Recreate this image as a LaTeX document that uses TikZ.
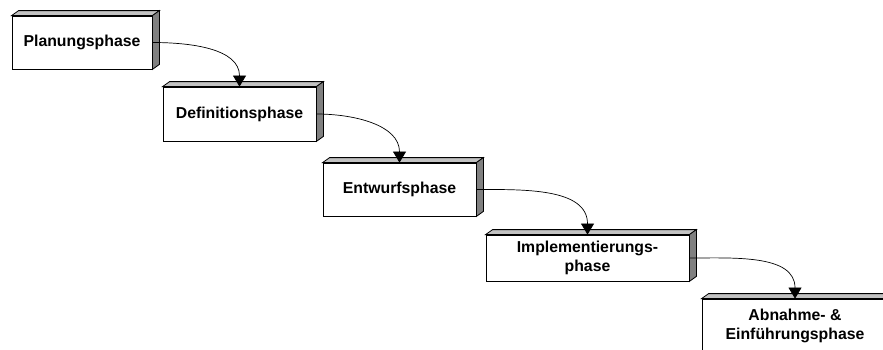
\documentclass[tikz,border=0pt]{standalone}
\usepackage{fontspec}
\setmainfont{Liberation Sans}
\usetikzlibrary{arrows.meta,calc}

\definecolor{topface}{gray}{0.76}
\definecolor{sideface}{gray}{0.50}

\tikzset{
  phase/.style={draw=black, line width=0.8pt, fill=white, rectangle, inner sep=2pt,
    align=center, font=\fontsize{15.8}{18.5}\selectfont\bfseries},
  facedge/.style={draw=black, line width=0.8pt, line join=miter},
  flow/.style={draw=black, line width=0.7pt, -{Triangle[length=11pt,width=13pt]}},
}

% top and right faces that give each phase block its depth
\newcommand\blockfaces[1]{%
  \filldraw[fill=topface,facedge] (#1.north west) -- ++(7,-5)
    -- ($(#1.north east)+(7,-5)$) -- (#1.north east) -- cycle;
  \filldraw[fill=sideface,facedge] (#1.north east) -- ++(7,-5)
    -- ($(#1.south east)+(7,-5)$) -- (#1.south east) -- cycle;
}

\begin{document}
\begin{tikzpicture}[x=1pt,y=-1pt]
  \clip (0,0) rectangle (883,349);
  \fill[white] (0,0) rectangle (883,349);

  \node[phase, minimum width=140pt, minimum height=53pt] (p1) at (82,42.5) {Planungsphase};
  \node[phase, minimum width=153pt, minimum height=54pt] (p2) at (239.5,114) {Definitionsphase};
  \node[phase, minimum width=153pt, minimum height=53pt] (p3) at (399.5,189.5) {Entwurfsphase};
  \node[phase, minimum width=203pt, minimum height=46pt] (p4) at (587.5,258) {Implementierungs-\\phase};
  \node[phase, minimum width=186pt, minimum height=54pt] (p5) at (795,326) {Abnahme- \&\\Einführungsphase};

  \blockfaces{p1}
  \blockfaces{p2}
  \blockfaces{p3}
  \blockfaces{p4}
  \blockfaces{p5}

  \draw[flow] (p1.east) to[out=0,in=90] (p2.north);
  \draw[flow] (p2.east) to[out=0,in=90] (p3.north);
  \draw[flow] (p3.east) to[out=0,in=90] (p4.north);
  \draw[flow] (p4.east) to[out=0,in=90] (p5.north);
\end{tikzpicture}
\end{document}
